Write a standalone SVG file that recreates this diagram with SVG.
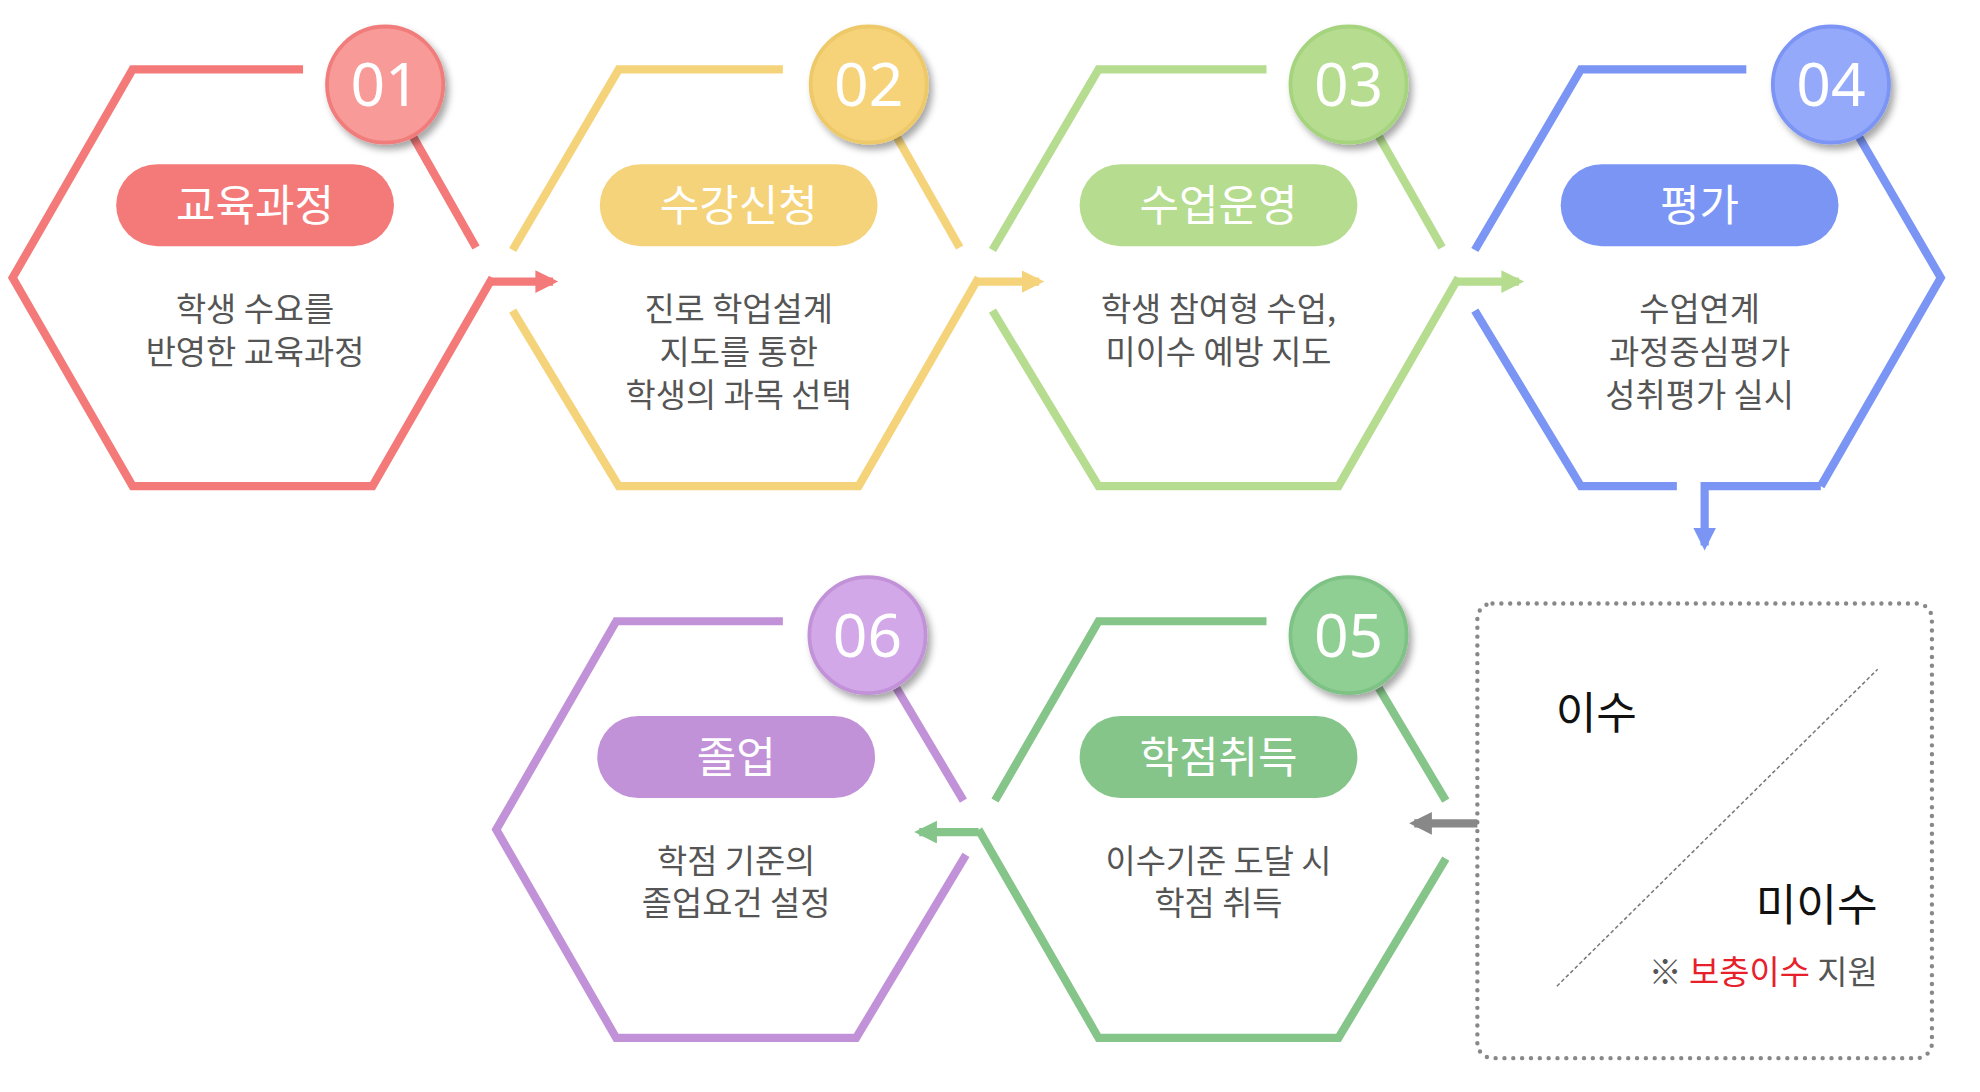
<svg xmlns="http://www.w3.org/2000/svg" width="1980" height="1092" viewBox="0 0 1980 1092">
<defs>
<style>
.h{fill:none;stroke-width:6.5;stroke-linejoin:miter}
.pt{font-family:"Noto Sans CJK KR","Noto Sans",sans-serif;font-size:34px;fill:#fff;text-anchor:middle}
.num{font-family:"Noto Sans","Noto Sans CJK KR",sans-serif;font-size:48px;fill:#fff;text-anchor:middle}
.d{font-family:"Noto Sans CJK KR","Noto Sans",sans-serif;font-size:26px;fill:#555;text-anchor:middle}
</style>
<filter id="sh" x="-30%" y="-30%" width="170%" height="170%"><feDropShadow dx="3" dy="4" stdDeviation="3" flood-color="#000" flood-opacity="0.35"/></filter>
<marker id="aR" markerUnits="userSpaceOnUse" markerWidth="20" markerHeight="20" refX="14" refY="9" orient="auto"><path d="M0,0 L18,9 L0,18 Z" fill="#f47a7a"/></marker>
<marker id="aY" markerUnits="userSpaceOnUse" markerWidth="20" markerHeight="20" refX="14" refY="9" orient="auto"><path d="M0,0 L18,9 L0,18 Z" fill="#f5d37a"/></marker>
<marker id="aG" markerUnits="userSpaceOnUse" markerWidth="20" markerHeight="20" refX="14" refY="9" orient="auto"><path d="M0,0 L18,9 L0,18 Z" fill="#b5dc8f"/></marker>
<marker id="aB" markerUnits="userSpaceOnUse" markerWidth="20" markerHeight="20" refX="14" refY="9" orient="auto"><path d="M0,0 L18,9 L0,18 Z" fill="#7b95f5"/></marker>
<marker id="aD" markerUnits="userSpaceOnUse" markerWidth="20" markerHeight="20" refX="14" refY="9" orient="auto"><path d="M0,0 L18,9 L0,18 Z" fill="#85c58a"/></marker>
<marker id="aK" markerUnits="userSpaceOnUse" markerWidth="20" markerHeight="20" refX="14" refY="9" orient="auto"><path d="M0,0 L18,9 L0,18 Z" fill="#888"/></marker>
</defs>
<rect width="1980" height="1092" fill="#fff"/>
<g transform="scale(1.2627)">
<g id="n1">
<path class="h" stroke="#f47a7a" d="M240,55 H105 L10,220 L105,385 H295 L390,220"/>
<path class="h" stroke="#f47a7a" d="M327,108 L377,196"/>
<circle cx="305" cy="67" r="46" fill="#f79a98" stroke="#f07d7b" stroke-width="3" filter="url(#sh)"/>
<text class="num" x="305" y="84">01</text>
<rect x="92" y="130" width="220" height="65" rx="32.5" fill="#f47a7a"/>
<text class="pt" x="202" y="175">교육과정</text>
<text class="d" x="202" y="254">학생 수요를</text>
<text class="d" x="202" y="288">반영한 교육과정</text>
</g>
<g id="n2">
<path class="h" stroke="#f5d37a" d="M620,55 H490 L406,198"/>
<path class="h" stroke="#f5d37a" d="M406,246 L490,385 H680 L775,220"/>
<path class="h" stroke="#f5d37a" d="M710,108 L760,196"/>
<circle cx="688" cy="67" r="46" fill="#f6d278" stroke="#eec96a" stroke-width="3" filter="url(#sh)"/>
<text class="num" x="688" y="84">02</text>
<rect x="475" y="130" width="220" height="65" rx="32.5" fill="#f5d37a"/>
<text class="pt" x="585" y="175">수강신청</text>
<text class="d" x="585" y="254">진로 학업설계</text>
<text class="d" x="585" y="288">지도를 통한</text>
<text class="d" x="585" y="322">학생의 과목 선택</text>
</g>
<g id="n3">
<path class="h" stroke="#b5dc8f" d="M1003,55 H870 L786,198"/>
<path class="h" stroke="#b5dc8f" d="M786,246 L870,385 H1060 L1155,220"/>
<path class="h" stroke="#b5dc8f" d="M1092,108 L1142,196"/>
<circle cx="1068" cy="67" r="46" fill="#b5dc8f" stroke="#a6d47e" stroke-width="3" filter="url(#sh)"/>
<text class="num" x="1068" y="84">03</text>
<rect x="855" y="130" width="220" height="65" rx="32.5" fill="#b5dc8f"/>
<text class="pt" x="965" y="175">수업운영</text>
<text class="d" x="965" y="254">학생 참여형 수업,</text>
<text class="d" x="965" y="288">미이수 예방 지도</text>
</g>
<g id="n4">
<path class="h" stroke="#7b95f5" d="M1383,55 H1252 L1168,198"/>
<path class="h" stroke="#7b95f5" d="M1168,246 L1252,385 H1328"/>
<path class="h" stroke="#7b95f5" d="M1472,108 L1537,220 L1442,385"/>
<circle cx="1450" cy="67" r="46" fill="#94a9fa" stroke="#7b95f5" stroke-width="3" filter="url(#sh)"/>
<text class="num" x="1450" y="84">04</text>
<rect x="1236" y="130" width="220" height="65" rx="32.5" fill="#7b95f5"/>
<text class="pt" x="1346" y="175">평가</text>
<text class="d" x="1346" y="254">수업연계</text>
<text class="d" x="1346" y="288">과정중심평가</text>
<text class="d" x="1346" y="322">성취평가 실시</text>
</g>
<g id="n5">
<path class="h" stroke="#85c58a" d="M1003,492 H870 L788,634"/>
<path class="h" stroke="#85c58a" d="M1092,545 L1145,634"/>
<path class="h" stroke="#85c58a" d="M1145,680 L1060,822 H870 L775,657"/>
<circle cx="1068" cy="503" r="46" fill="#90cf94" stroke="#7fc285" stroke-width="3" filter="url(#sh)"/>
<text class="num" x="1068" y="520">05</text>
<rect x="855" y="567" width="220" height="65" rx="32.5" fill="#85c58a"/>
<text class="pt" x="965" y="612">학점취득</text>
<text class="d" x="965" y="691">이수기준 도달 시</text>
<text class="d" x="965" y="725">학점 취득</text>
</g>
<g id="n6">
<path class="h" stroke="#c292d8" d="M620,492 H488 L393,657 L488,822 H678 L765,677"/>
<path class="h" stroke="#c292d8" d="M710,545 L763,634"/>
<circle cx="687" cy="503" r="46" fill="#d3a8e8" stroke="#c292d8" stroke-width="3" filter="url(#sh)"/>
<text class="num" x="687" y="520">06</text>
<rect x="473" y="567" width="220" height="65" rx="32.5" fill="#c292d8"/>
<text class="pt" x="583" y="612">졸업</text>
<text class="d" x="583" y="691">학점 기준의</text>
<text class="d" x="583" y="725">졸업요건 설정</text>
</g>
<g id="box">
<rect x="1170" y="478" width="360" height="360" rx="12" fill="none" stroke="#888" stroke-width="3.5" stroke-dasharray="0 7" stroke-linecap="round"/>
<line x1="1233" y1="781" x2="1487" y2="530" stroke="#777" stroke-width="1.2" stroke-dasharray="3 2"/>
<text x="1232" y="577" font-family="'Noto Sans CJK KR',sans-serif" font-size="35" fill="#111">이수</text>
<text x="1487" y="729" text-anchor="end" font-family="'Noto Sans CJK KR',sans-serif" font-size="35" fill="#111">미이수</text>
<text x="1487" y="779" text-anchor="end" font-family="'Noto Sans CJK KR',sans-serif" font-size="26" fill="#555">※ <tspan fill="#e8202a">보충이수</tspan> 지원</text>
</g>
<g id="connectors" fill="none" stroke-width="6.5">
<path stroke="#f47a7a" d="M388,223 H438" marker-end="url(#aR)"/>
<path stroke="#f5d37a" d="M773,223 H823" marker-end="url(#aY)"/>
<path stroke="#b5dc8f" d="M1153,223 H1203" marker-end="url(#aG)"/>
<path stroke="#7b95f5" d="M1442,385 H1350 V432" marker-end="url(#aB)"/>
<path stroke="#85c58a" d="M775,659 H728" marker-end="url(#aD)"/>
<path stroke="#888" d="M1170,652 H1120" marker-end="url(#aK)"/>
</g>
</g>
</svg>
